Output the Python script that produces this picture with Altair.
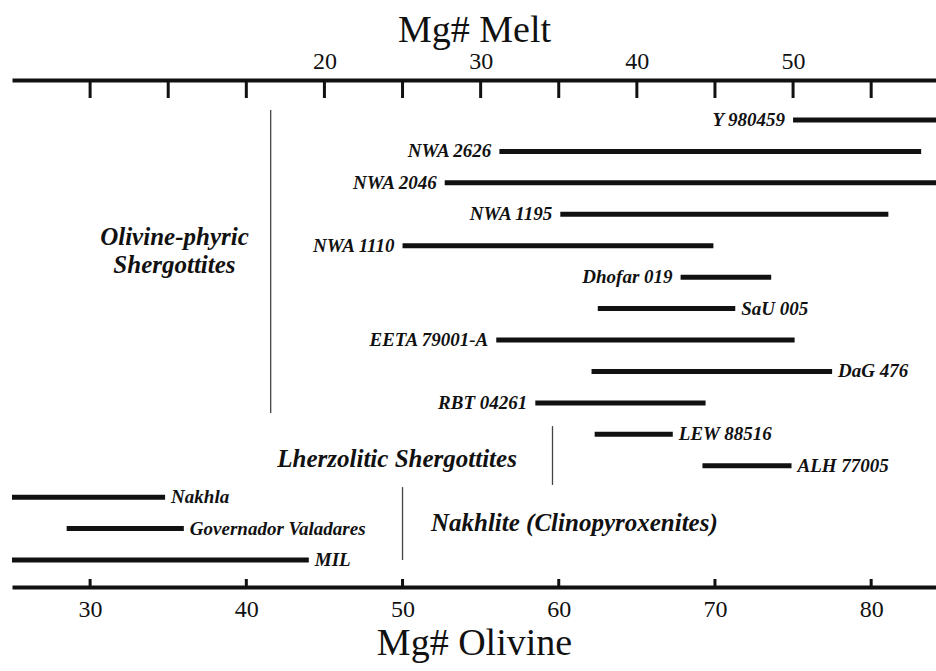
import altair as alt
import pandas as pd

# Mg# olivine ranges for each Martian meteorite (top to bottom)
samples = [
    "Y 980459", "NWA 2626", "NWA 2046", "NWA 1195", "NWA 1110",
    "Dhofar 019", "SaU 005", "EETA 79001-A", "DaG 476", "RBT 04261",
    "LEW 88516", "ALH 77005", "Nakhla", "Governador Valadares", "MIL",
]
mg_low = [75.0, 56.2, 52.7, 60.1, 50.0, 67.8, 62.5, 56.0, 62.1, 58.5, 62.3, 69.2, 24.0, 28.5, 24.0]
mg_high = [86.0, 83.2, 86.0, 81.1, 69.9, 73.6, 71.3, 75.1, 77.5, 69.4, 67.3, 74.9, 34.8, 36.0, 44.0]
label_side = ["left", "left", "left", "left", "left",
              "left", "right", "left", "right", "left",
              "right", "right", "right", "right", "right"]

# Group names and where they sit (x in Mg# olivine, y in row units)
group_text = ["Olivine-phyric", "Shergottites", "Lherzolitic Shergottites", "Nakhlite (Clinopyroxenites)"]
group_x = [35.4, 35.4, 49.65, 61.0]
group_row = [4.72, 5.61, 11.79, 13.82]

# Thin separators between the groups
sep_x = [41.56, 59.6, 50.0]
sep_row_top = [0.68, 10.74, 12.68]
sep_row_bottom = [10.32, 12.61, 15.0]

# Axis ticks
olivine_ticks = [30, 40, 50, 60, 70, 80]
melt_ticks = [5, 10, 15, 20, 25, 30, 35, 40, 45, 50, 55]
melt_labels = [20, 30, 40, 50]
MELT_OFFSET = 25  # Mg# melt = Mg# olivine - 25

FONT = "Liberation Serif"
INK = "#111111"

bars = pd.DataFrame({
    "sample": samples,
    "low": mg_low,
    "high": mg_high,
    "side": label_side,
    "row": list(range(1, len(samples) + 1)),
})
groups = pd.DataFrame({"text": group_text, "x": group_x, "row": group_row})
seps = pd.DataFrame({"x": sep_x, "top": sep_row_top, "bottom": sep_row_bottom})
oliv = pd.DataFrame({"olivine": olivine_ticks})
melt = pd.DataFrame({"melt": melt_ticks})

x_scale = alt.Scale(domain=[25, 84.15], nice=False, zero=False)
y_scale = alt.Scale(domain=[-0.273, 15.858], reverse=True, nice=False, zero=False)

bottom_axis = alt.Axis(
    orient="bottom", values=olivine_ticks, ticks=False, grid=False,
    domainWidth=4, domainColor=INK, labelFont=FONT, labelFontSize=24,
    labelColor=INK, labelPadding=10, title="Mg# Olivine", titleFont=FONT,
    titleFontSize=38, titleFontWeight="normal", titleColor=INK, titlePadding=3,
)
top_axis = alt.Axis(
    orient="top", values=[m + MELT_OFFSET for m in melt_labels], ticks=False,
    grid=False, domainWidth=4, domainColor=INK, labelFont=FONT, labelFontSize=24,
    labelColor=INK, labelPadding=7, labelExpr=f"datum.value - {MELT_OFFSET}",
    title="Mg# Melt", titleFont=FONT, titleFontSize=38, titleFontWeight="normal",
    titleColor=INK, titlePadding=0,
)
left_axis = alt.Axis(
    orient="left", ticks=False, labels=False, grid=False, domainWidth=4,
    domainColor=INK, title=None,
)

range_bars = alt.Chart(bars).mark_rule(strokeWidth=5, color=INK, clip=True).encode(
    x=alt.X("low:Q", scale=x_scale, axis=bottom_axis),
    x2="high:Q",
    y=alt.Y("row:Q", scale=y_scale, axis=left_axis),
)

label_style = dict(font=FONT, fontSize=19, fontStyle="italic", fontWeight="bold",
                   color=INK, baseline="middle")
left_labels = alt.Chart(bars).transform_filter(alt.datum.side == "left").mark_text(
    align="right", dx=-8, **label_style
).encode(
    x=alt.X("low:Q", scale=x_scale, axis=None),
    y=alt.Y("row:Q", scale=y_scale, axis=None),
    text="sample:N",
)
right_labels = alt.Chart(bars).transform_filter(alt.datum.side == "right").mark_text(
    align="left", dx=6, **label_style
).encode(
    x=alt.X("high:Q", scale=x_scale, axis=None),
    y=alt.Y("row:Q", scale=y_scale, axis=None),
    text="sample:N",
)

group_labels = alt.Chart(groups).mark_text(
    font=FONT, fontSize=25, fontStyle="italic", fontWeight="bold", color=INK,
    align="center", baseline="middle",
).encode(
    x=alt.X("x:Q", scale=x_scale, axis=None),
    y=alt.Y("row:Q", scale=y_scale, axis=None),
    text="text:N",
)

separators = alt.Chart(seps).mark_rule(strokeWidth=1.3, color="#444444").encode(
    x=alt.X("x:Q", scale=x_scale, axis=None),
    y=alt.Y("top:Q", scale=y_scale, axis=None),
    y2="bottom:Q",
)

# Inward ticks along the bottom (Mg# olivine) and top (Mg# melt) edges
bottom_ticks = alt.Chart(oliv).mark_rule(strokeWidth=3, color=INK).encode(
    x=alt.X("olivine:Q", scale=x_scale, axis=None),
    y=alt.value(499),
    y2=alt.value(507),
)
top_ticks = alt.Chart(melt).transform_calculate(
    olivine=f"datum.melt + {MELT_OFFSET}"
).mark_rule(strokeWidth=3, color=INK).encode(
    x=alt.X("olivine:Q", scale=x_scale, axis=top_axis),
    y=alt.value(0),
    y2=alt.value(18),
)

chart = alt.layer(
    separators, range_bars, left_labels, right_labels, group_labels,
    bottom_ticks, top_ticks,
).resolve_axis(x="independent").properties(
    width=924,
    height=507,
    padding={"left": 12, "top": 80, "right": 0, "bottom": 84},
    autosize=alt.AutoSizeParams(type="none"),
    background="white",
).configure_view(stroke=None)

chart.save("out.html", embed_options={"renderer": "svg", "actions": False})
